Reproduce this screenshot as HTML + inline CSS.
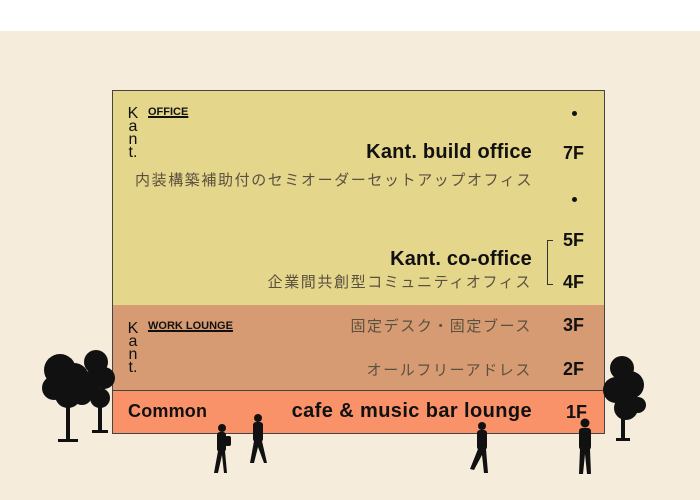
<!DOCTYPE html>
<html><head><meta charset="utf-8"><style>
body{margin:0;width:700px;height:500px;overflow:hidden;background:#f5ecdc;position:relative;font-family:"Liberation Sans","Noto Sans CJK JP",sans-serif}
.a{position:absolute;white-space:nowrap}
.jp{font-size:15px;color:#5a5040;letter-spacing:1.6px}
.b{font-weight:bold;color:#111}
.fl{font-weight:bold;font-size:18px;color:#111}
.k{position:absolute;font-size:16px;line-height:13px;width:12px;text-align:center;color:#111}
.u{font-weight:bold;font-size:11px;text-decoration:underline;text-decoration-thickness:2px;color:#111}
</style></head><body>
<div class="a" style="left:0;top:0;width:700px;height:31px;background:#fff"></div>
<div class="a" style="left:112px;top:90px;width:491px;height:214px;background:#e4d68b;border:1px solid #444"></div>
<div class="a" style="left:112px;top:305px;width:491px;height:85px;background:#d69b72;border:1px solid #444;border-top:none"></div>
<div class="a" style="left:112px;top:390px;width:491px;height:42px;background:#f99169;border:1px solid #444"></div>

<div class="k" style="left:127px;top:107px">K<br>a<br>n<br>t.</div>
<div class="a u" style="left:148px;top:106px">OFFICE</div>
<div class="k" style="left:127px;top:322px">K<br>a<br>n<br>t.</div>
<div class="a u" style="left:148px;top:320px">WORK LOUNGE</div>

<div class="a" style="left:572px;top:111px;width:5px;height:5px;border-radius:50%;background:#111"></div>
<div class="a" style="left:572px;top:197px;width:5px;height:5px;border-radius:50%;background:#111"></div>

<div class="a b" style="right:168px;top:141px;font-size:20px;letter-spacing:0.2px">Kant. build office</div>
<div class="a fl" style="left:563px;top:143px">7F</div>
<div class="a jp" style="left:135px;top:169px">内装構築補助付のセミオーダーセットアップオフィス</div>

<div class="a b" style="right:168px;top:248px;font-size:20px;letter-spacing:0.2px">Kant. co-office</div>
<div class="a jp" style="right:168px;top:271px">企業間共創型コミュニティオフィス</div>
<div class="a fl" style="left:563px;top:230px">5F</div>
<div class="a fl" style="left:563px;top:272px">4F</div>
<div class="a" style="left:547px;top:240px;width:5px;height:43px;border:1px solid #333;border-right:none"></div>

<div class="a jp" style="right:168px;top:315px">固定デスク・固定ブース</div>
<div class="a fl" style="left:563px;top:315px">3F</div>
<div class="a jp" style="right:168px;top:359px">オールフリーアドレス</div>
<div class="a fl" style="left:563px;top:359px">2F</div>

<div class="a b" style="left:128px;top:401px;font-size:18px;letter-spacing:0.2px">Common</div>
<div class="a b" style="right:168px;top:400px;font-size:20px;letter-spacing:0.4px">cafe &amp; music bar lounge</div>
<div class="a fl" style="left:566px;top:402px">1F</div>

<svg class="a" style="left:0;top:0" width="700" height="500">
<g fill="#111">
<rect x="66" y="400" width="4" height="40"/><rect x="58" y="439" width="20" height="3"/>
<circle cx="60" cy="370" r="16"/><circle cx="74" cy="378" r="15"/><circle cx="54" cy="388" r="12"/><circle cx="68" cy="395" r="13"/><circle cx="82" cy="395" r="10"/>
<rect x="98" y="390" width="4" height="40"/><rect x="92" y="430" width="16" height="3"/>
<circle cx="96" cy="362" r="12"/><circle cx="104" cy="378" r="11"/><circle cx="90" cy="382" r="11"/><circle cx="100" cy="398" r="10"/>
<rect x="621" y="400" width="4" height="38"/><rect x="616" y="438" width="14" height="3"/>
<circle cx="622" cy="368" r="12"/><circle cx="630" cy="385" r="14"/><circle cx="616" cy="390" r="13"/><circle cx="626" cy="408" r="12"/><circle cx="638" cy="405" r="8"/>
<g transform="translate(222,425)"><circle cx="0" cy="3" r="4"/><rect x="-5" y="7" width="9" height="20" rx="3"/><rect x="3" y="11" width="6" height="10" rx="2"/><path d="M-4 26 L-8 48 L-4 48 L0 30 L2 48 L5 48 L3 26Z"/></g>
<g transform="translate(258,415)"><circle cx="0" cy="3" r="4"/><rect x="-5" y="7" width="10" height="20" rx="3"/><path d="M-4 26 L-8 48 L-4 48 L0 32 L6 48 L9 48 L4 26Z"/></g>
<g transform="translate(482,423)"><circle cx="0" cy="3" r="4"/><rect x="-5" y="7" width="10" height="20" rx="3"/><path d="M-4 26 L-12 46 L-8 47 L0 32 L2 50 L6 50 L4 26Z"/></g>
<g transform="translate(585,420)"><circle cx="0" cy="3" r="4.5"/><rect x="-6" y="8" width="12" height="22" rx="3"/><path d="M-5 29 L-6 54 L-2 54 L0 34 L2 54 L6 54 L5 29Z"/></g>
</g>
</svg>
</body></html>
